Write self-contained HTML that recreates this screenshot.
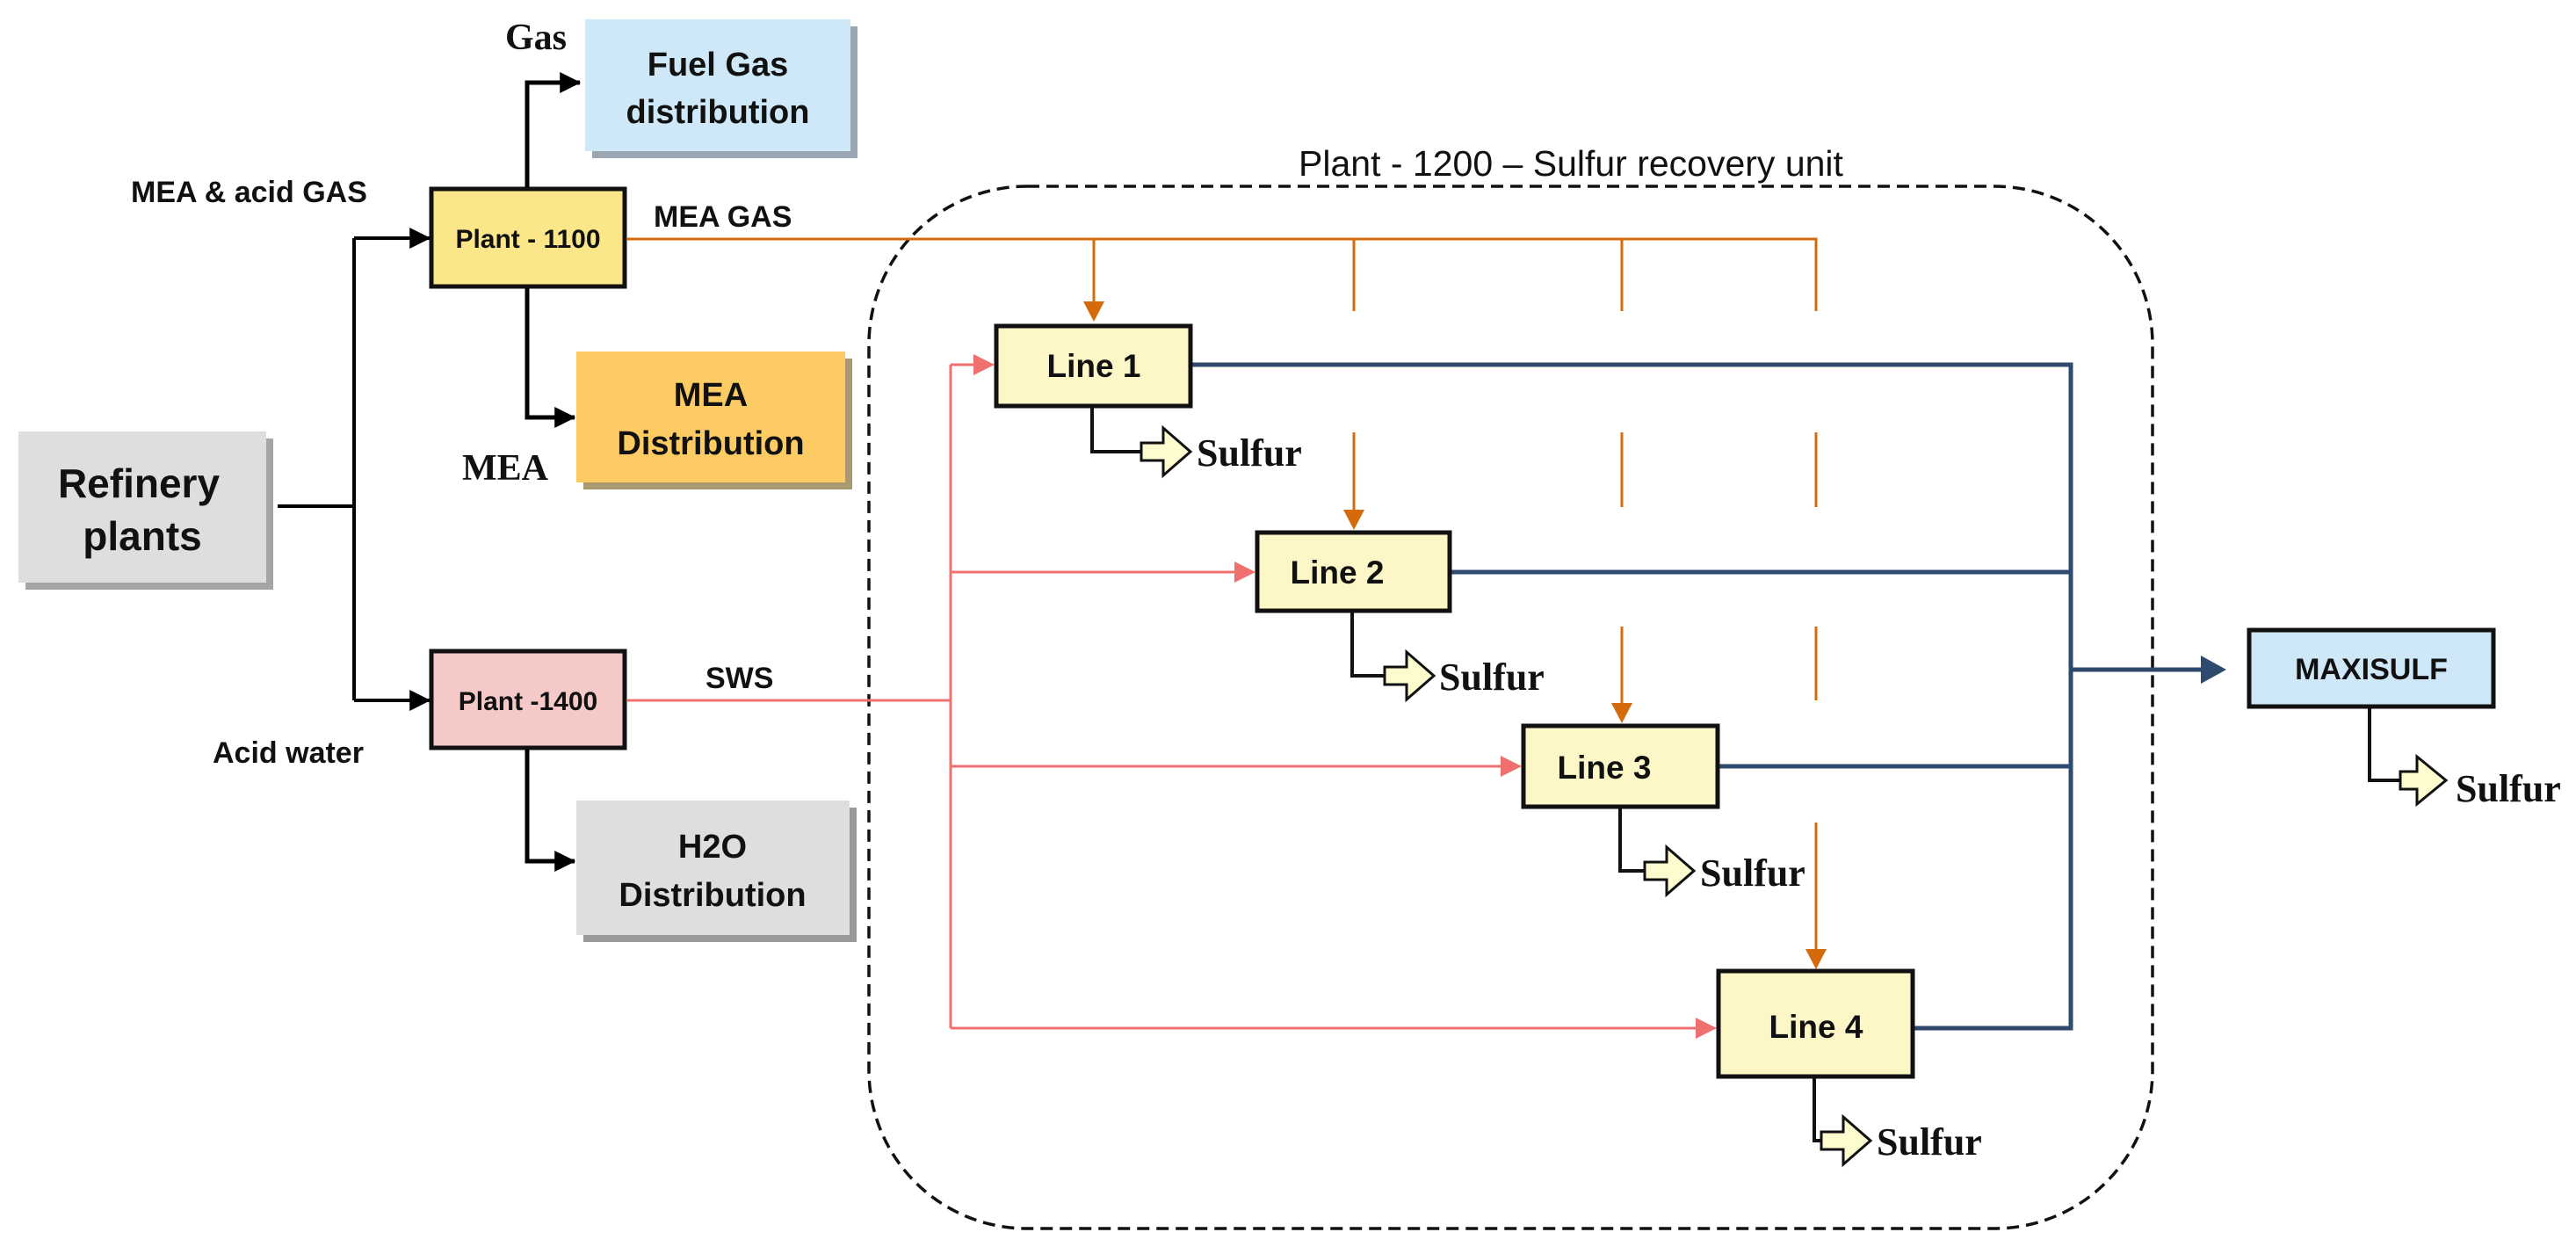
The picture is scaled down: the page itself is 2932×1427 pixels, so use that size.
<!DOCTYPE html>
<html><head><meta charset="utf-8"><style>
html,body{margin:0;padding:0;background:#fff}
svg{display:block}
.cal{font-family:"Liberation Sans",sans-serif;font-weight:bold;fill:#111}
.ser{font-family:"Liberation Serif",serif;font-weight:bold;fill:#111}
</style></head><body>
<svg width="2932" height="1427" viewBox="0 0 2932 1427" xmlns="http://www.w3.org/2000/svg">
<defs>
<marker id="ab" markerWidth="24" markerHeight="24" refX="9.5" refY="5" orient="auto" markerUnits="userSpaceOnUse" viewBox="0 0 10 10"><path d="M0,0 L10,5 L0,10 z" fill="#000"/></marker>
</defs>

<!-- container -->
<rect x="989" y="212" width="1461" height="1186" rx="180" ry="180" fill="none" stroke="#111" stroke-width="3.5" stroke-dasharray="14 8"/>
<text x="1788" y="200" text-anchor="middle" font-family="Liberation Sans, sans-serif" font-size="41" fill="#111">Plant -  1200 – Sulfur recovery unit</text>

<!-- boxes left -->
<rect x="674" y="30" width="302" height="150" fill="#9aa7b3"/>
<rect x="666" y="22" width="302" height="150" fill="#cfe8f8"/>
<text class="cal" font-size="38" x="817" y="86" text-anchor="middle">Fuel Gas</text>
<text class="cal" font-size="38" x="817" y="140" text-anchor="middle">distribution</text>

<rect x="664" y="408" width="306" height="149" fill="#a89a6e"/>
<rect x="656" y="400" width="306" height="149" fill="#fccb64"/>
<text class="cal" font-size="38" x="809" y="462" text-anchor="middle">MEA</text>
<text class="cal" font-size="38" x="809" y="517" text-anchor="middle">Distribution</text>

<rect x="664" y="919" width="311" height="153" fill="#999"/>
<rect x="656" y="911" width="311" height="153" fill="#dedede"/>
<text class="cal" font-size="38" x="811" y="976" text-anchor="middle">H2O</text>
<text class="cal" font-size="38" x="811" y="1031" text-anchor="middle">Distribution</text>

<rect x="29" y="499" width="282" height="172" fill="#a5a5a5"/>
<rect x="21" y="491" width="282" height="172" fill="#dedede"/>
<text class="cal" font-size="46" x="158" y="566" text-anchor="middle">Refinery</text>
<text class="cal" font-size="46" x="162" y="626" text-anchor="middle">plants</text>

<rect x="491" y="215" width="220" height="111" fill="#fbe68a" stroke="#111" stroke-width="5"/>
<text class="cal" font-size="30" x="601" y="282" text-anchor="middle">Plant - 1100</text>
<rect x="491" y="741" width="220" height="110" fill="#f6c9c9" stroke="#111" stroke-width="5"/>
<text class="cal" font-size="30" x="601" y="808" text-anchor="middle">Plant -1400</text>

<!-- black connectors -->
<g fill="none" stroke="#000" stroke-width="4">
<polyline points="316,576 403,576"/>
<polyline points="403,271 403,797"/>
<line x1="403" y1="271" x2="489" y2="271" marker-end="url(#ab)"/>
<line x1="403" y1="797" x2="489" y2="797" marker-end="url(#ab)"/>
<polyline points="600,213 600,94 660,94" stroke-width="5" marker-end="url(#ab)"/>
<polyline points="600,328 600,475 654,475" stroke-width="5" marker-end="url(#ab)"/>
<polyline points="600,853 600,980 654,980" stroke-width="5" marker-end="url(#ab)"/>
</g>
<text class="cal" font-size="34" x="149" y="230">MEA &amp; acid GAS</text>
<text class="cal" font-size="34" x="744" y="258">MEA GAS</text>
<text class="cal" font-size="34" x="803" y="783">SWS</text>
<text class="cal" font-size="34" x="242" y="868">Acid water</text>
<text class="ser" font-size="42" x="575" y="56">Gas</text>
<text class="ser" font-size="42" x="526" y="546">MEA</text>

<!-- orange -->
<g stroke="#d46a0a" stroke-width="3" fill="none">
<polyline points="713,272 2067,272 2067,354"/>
<line x1="1245" y1="272" x2="1245" y2="345"/>
<line x1="1541" y1="272" x2="1541" y2="354"/>
<line x1="1846" y1="272" x2="1846" y2="354"/>
<line x1="1541" y1="492" x2="1541" y2="582"/>
<line x1="1846" y1="492" x2="1846" y2="577"/>
<line x1="2067" y1="492" x2="2067" y2="577"/>
<line x1="1846" y1="713" x2="1846" y2="802"/>
<line x1="2067" y1="713" x2="2067" y2="797"/>
<line x1="2067" y1="936" x2="2067" y2="1082"/>
</g>
<g fill="#d46a0a">
<path d="M1233,343 L1257,343 L1245,366 z"/>
<path d="M1529,580 L1553,580 L1541,603 z"/>
<path d="M1834,800 L1858,800 L1846,823 z"/>
<path d="M2055,1080 L2079,1080 L2067,1103 z"/>
</g>

<!-- red -->
<g stroke="#f07070" stroke-width="3" fill="none">
<line x1="713" y1="797" x2="1082" y2="797"/>
<line x1="1082" y1="415" x2="1082" y2="1170"/>
<line x1="1082" y1="415" x2="1115" y2="415"/>
<line x1="1082" y1="651" x2="1412" y2="651"/>
<line x1="1082" y1="872" x2="1715" y2="872"/>
<line x1="1082" y1="1170" x2="1937" y2="1170"/>
</g>
<g fill="#f07070">
<path d="M1108,403 L1132,415 L1108,427 z"/>
<path d="M1405,639 L1429,651 L1405,663 z"/>
<path d="M1708,860 L1732,872 L1708,884 z"/>
<path d="M1930,1158 L1954,1170 L1930,1182 z"/>
</g>

<!-- navy -->
<g stroke="#2e4a6e" stroke-width="5" fill="none">
<polyline points="1357,415 2357,415 2357,1170 2179,1170"/>
<line x1="1652" y1="651" x2="2357" y2="651"/>
<line x1="1957" y1="872" x2="2357" y2="872"/>
<line x1="2357" y1="762" x2="2512" y2="762"/>
</g>
<path d="M2505,746 L2534,762 L2505,778 z" fill="#2e4a6e"/>

<!-- line boxes -->
<g fill="#fdf6c6" stroke="#111" stroke-width="5">
<rect x="1134" y="371" width="221" height="91"/>
<rect x="1431" y="606" width="219" height="89"/>
<rect x="1734" y="826" width="221" height="92"/>
<rect x="1956" y="1105" width="221" height="120"/>
</g>
<text class="cal" font-size="37" x="1245" y="429" text-anchor="middle">Line 1</text>
<text class="cal" font-size="37" x="1522" y="664" text-anchor="middle">Line 2</text>
<text class="cal" font-size="37" x="1826" y="886" text-anchor="middle">Line 3</text>
<text class="cal" font-size="37" x="2067" y="1181" text-anchor="middle">Line 4</text>

<!-- MAXISULF -->
<rect x="2560" y="717" width="278" height="87" fill="#cfe8f8" stroke="#111" stroke-width="5"/>
<text class="cal" font-size="34" x="2699" y="773" text-anchor="middle">MAXISULF</text>

<!-- sulfur outputs -->
<g stroke="#111" stroke-width="4" fill="none">
<polyline points="1243,464 1243,514 1300,514"/>
<polyline points="1539,697 1539,769 1577,769"/>
<polyline points="1844,920 1844,991 1873,991"/>
<polyline points="2065,1227 2065,1298 2074,1298"/>
<polyline points="2697,806 2697,888 2733,888"/>
</g>
<g fill="#fdfccf" stroke="#111" stroke-width="3">
<path transform="translate(1299,514)" d="M0,-10 L25,-10 L25,-27 L56,0 L25,27 L25,10 L0,10 z"/>
<path transform="translate(1576,769)" d="M0,-10 L25,-10 L25,-27 L56,0 L25,27 L25,10 L0,10 z"/>
<path transform="translate(1872,991)" d="M0,-10 L25,-10 L25,-27 L56,0 L25,27 L25,10 L0,10 z"/>
<path transform="translate(2073,1298)" d="M0,-10 L25,-10 L25,-27 L56,0 L25,27 L25,10 L0,10 z"/>
<path transform="translate(2732,888)" d="M0,-10 L19,-10 L19,-27 L52,0 L19,27 L19,10 L0,10 z"/>
</g>
<text class="ser" font-size="44" x="1362" y="530">Sulfur</text>
<text class="ser" font-size="44" x="1638" y="785">Sulfur</text>
<text class="ser" font-size="44" x="1935" y="1008">Sulfur</text>
<text class="ser" font-size="44" x="2136" y="1314">Sulfur</text>
<text class="ser" font-size="44" x="2795" y="912">Sulfur</text>
</svg>
</body></html>
